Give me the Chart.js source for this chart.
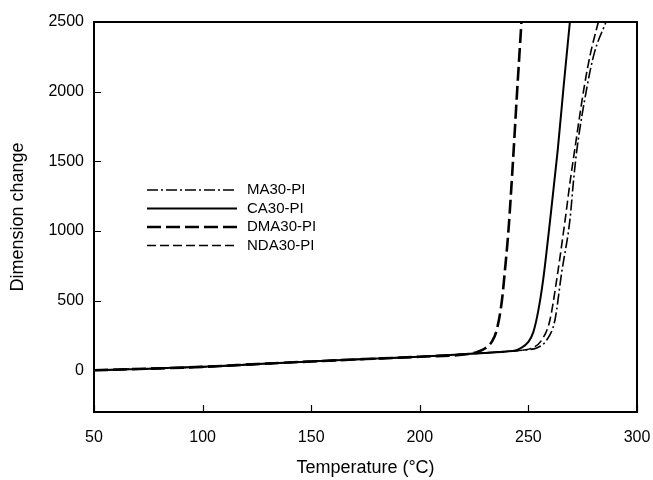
<!DOCTYPE html>
<html>
<head>
<meta charset="utf-8">
<script src="https://cdn.jsdelivr.net/npm/chart.js@4"></script>
<style>
html,body{margin:0;padding:0;background:#fff;}
#wrap{width:653px;height:480px;position:relative;}
</style>
</head>
<body>
<div id="wrap"><canvas id="c" width="653" height="480"></canvas></div>
<script>
// ---- data ----
const seriesNames = ['MA30-PI', 'CA30-PI', 'DMA30-PI', 'NDA30-PI'];

const maTemp = [50, 75, 100, 125, 150, 175, 200, 223, 240, 250, 253.8, 258.4, 262.2, 265.3, 269.1, 270.8, 272.3, 277, 280.3, 285.7];
const maVal  = [0, 11, 24, 44, 63, 80, 97, 118, 135, 148, 160, 216, 359, 700, 1078, 1365, 1580, 2035, 2275, 2500];

const caTemp = [50, 75, 100, 125, 150, 175, 200, 223, 240, 244, 246.1, 250, 252.3, 254.6, 256.8, 260, 263.5, 266.2, 269.1];
const caVal  = [0, 11, 24, 44, 63, 80, 97, 118, 135, 142, 156, 203, 275, 431, 650, 1078, 1580, 2035, 2500];

const dmaTemp = [50, 75, 100, 125, 150, 175, 200, 223, 226.2, 230, 233.1, 235.4, 237.8, 239.2, 240.8, 242.9, 244.8, 246.8];
const dmaVal  = [0, 11, 24, 44, 63, 80, 97, 118, 130, 156, 203, 287, 500, 718, 1000, 1500, 2000, 2500];

const ndaTemp = [50, 75, 100, 125, 150, 175, 200, 223, 240, 248, 251.5, 256.1, 259.9, 263, 266.9, 269.3, 271.3, 275.7, 278.6, 282.2];
const ndaVal  = [0, 11, 24, 44, 63, 80, 97, 118, 135, 145, 158, 216, 359, 647, 1078, 1365, 1580, 2035, 2275, 2500];

const xTicks = [50, 100, 150, 200, 250, 300];
const yTicks = [0, 500, 1000, 1500, 2000, 2500];
const xTitle = 'Temperature (°C)';
const yTitle = 'Dimension change';

// ---- build ----
function pts(xs, ys) { return xs.map((x, i) => ({x: x, y: ys[i]})); }

const styles = [
  {borderDash: [11, 3, 2, 3], borderWidth: 1.6},
  {borderDash: [], borderWidth: 2},
  {borderDash: [14, 5], borderWidth: 2.6},
  {borderDash: [9, 4], borderWidth: 1.6}
];
const seriesData = [pts(maTemp, maVal), pts(caTemp, caVal), pts(dmaTemp, dmaVal), pts(ndaTemp, ndaVal)];

const datasets = seriesNames.map((n, i) => ({
  label: n,
  data: seriesData[i],
  borderColor: '#000',
  backgroundColor: '#000',
  borderWidth: styles[i].borderWidth,
  borderDash: styles[i].borderDash,
  pointRadius: 0,
  fill: false,
  cubicInterpolationMode: 'monotone',
  clip: 2
}));

const fontFam = '"Liberation Sans", Arial, sans-serif';

const framePlugin = {
  id: 'frame',
  afterDatasetsDraw(chart) {
    const ctx = chart.ctx, a = chart.chartArea;
    const xs = chart.scales.x, ys = chart.scales.y;
    ctx.save();
    ctx.strokeStyle = '#000';
    ctx.lineWidth = 2;
    ctx.setLineDash([]);
    ctx.strokeRect(a.left, a.top, a.right - a.left, a.bottom - a.top);
    ctx.lineWidth = 1.2;
    ctx.beginPath();
    xTicks.forEach(v => {
      const px = Math.round(xs.getPixelForValue(v)) + 0.5;
      ctx.moveTo(px, a.bottom); ctx.lineTo(px, a.bottom - 7);
    });
    yTicks.forEach(v => {
      const py = Math.round(ys.getPixelForValue(v)) + 0.5;
      ctx.moveTo(a.left, py); ctx.lineTo(a.left + 7, py);
    });
    ctx.stroke();
    // legend inside plot
    const lx0 = 147, lx1 = 237, tx = 247;
    const ly = [190, 208.5, 227, 245.5];
    ctx.font = '15px ' + fontFam;
    ctx.fillStyle = '#000';
    ctx.textBaseline = 'middle';
    ctx.textAlign = 'left';
    datasets.forEach((d, i) => {
      ctx.lineWidth = d.borderWidth;
      ctx.setLineDash(d.borderDash);
      ctx.beginPath();
      ctx.moveTo(lx0, ly[i]); ctx.lineTo(lx1, ly[i]);
      ctx.stroke();
      ctx.setLineDash([]);
      ctx.fillText(d.label, tx, ly[i]);
    });
    ctx.restore();
  }
};

new Chart(document.getElementById('c'), {
  type: 'line',
  data: {datasets: datasets},
  options: {
    responsive: false,
    animation: false,
    devicePixelRatio: 1,
    layout: {padding: {top: 22, right: 16, left: 0, bottom: 0}},
    plugins: {legend: {display: false}, tooltip: {enabled: false}},
    scales: {
      x: {
        type: 'linear', min: 50, max: 300,
        grid: {display: false, drawTicks: false},
        border: {display: false},
        afterBuildTicks(s) { s.ticks = xTicks.map(v => ({value: v})); },
        afterFit(s) { s.height = 68; s.paddingLeft = 0; s.paddingRight = 0; },
        ticks: {color: '#000', font: {family: fontFam, size: 16}, padding: 16, maxRotation: 0, autoSkip: false,
                callback: v => String(v)},
        title: {display: true, text: xTitle, color: '#000', font: {family: fontFam, size: 18}, padding: {top: 0, bottom: 1}}
      },
      y: {
        type: 'linear', min: -300, max: 2500,
        grid: {display: false, drawTicks: false},
        border: {display: false},
        afterBuildTicks(s) { s.ticks = yTicks.map(v => ({value: v})); },
        afterFit(s) { s.width = 94; s.paddingTop = 0; s.paddingBottom = 0; },
        ticks: {color: '#000', font: {family: fontFam, size: 16}, padding: 10, autoSkip: false,
                callback: v => String(v)},
        title: {display: true, text: yTitle, color: '#000', font: {family: fontFam, size: 18}, padding: {top: 7, bottom: 0}}
      }
    }
  },
  plugins: [framePlugin]
});
</script>
</body>
</html>
